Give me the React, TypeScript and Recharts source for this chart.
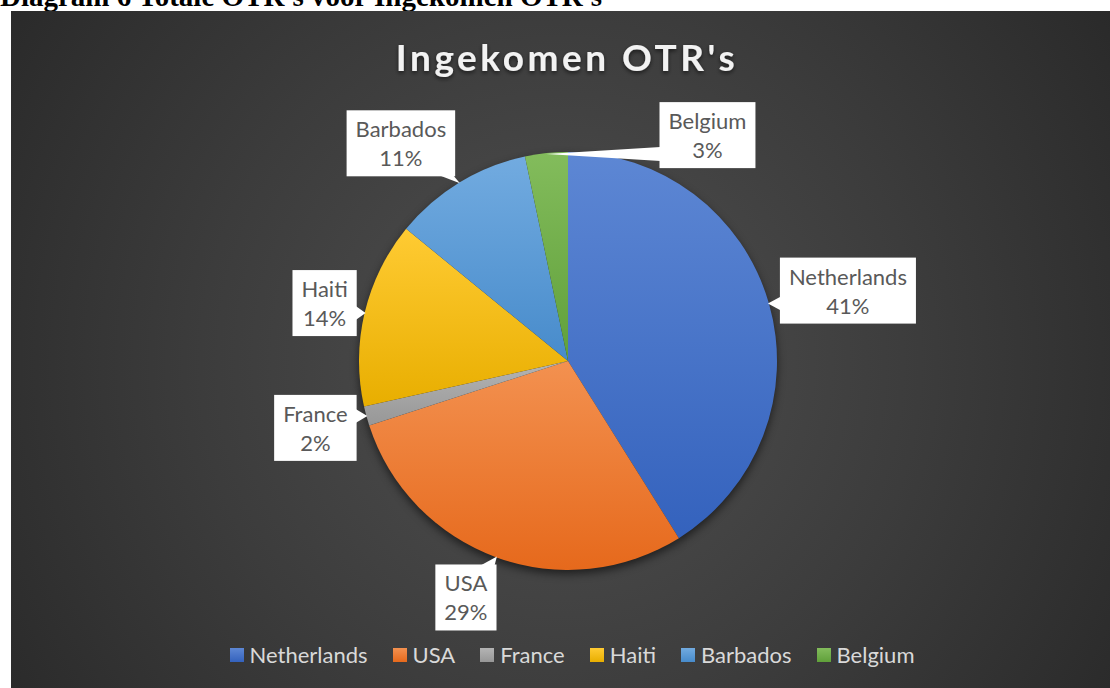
import { Cell, Legend, Pie, PieChart } from 'recharts'

const countries = ['Netherlands', 'USA', 'France', 'Haiti', 'Barbados', 'Belgium']
const shares = [41.1, 28.9, 1.5, 14.4, 10.8, 3.3]

const topColors = ['#5d87d4', '#f39150', '#b4b4b4', '#ffcb33', '#72abe0', '#83bc5c']
const bottomColors = ['#3462bd', '#e6691c', '#979797', '#e8ae00', '#478bcb', '#60a03a']

// where each callout box sits relative to the slice edge (dx, dy of box centre)
const labelOffsets = [[80, -13], [-31, 41], [-52, 12], [-41, -10], [-59, -40], [161, -19]]

const data = countries.map((name, i) => ({ name, value: shares[i] }))

const FONT = 'Lato, "Open Sans", sans-serif'
const LABEL_SIZE = 22
const RAD = Math.PI / 180

let measureCtx: CanvasRenderingContext2D | null = null
function textWidth(text: string, font: string): number {
  if (!measureCtx) measureCtx = document.createElement('canvas').getContext('2d')
  if (!measureCtx) return text.length * 10
  measureCtx.font = font
  return measureCtx.measureText(text).width
}

function clamp(v: number, lo: number, hi: number) {
  return Math.max(lo, Math.min(hi, v))
}

function renderCallout(props: any) {
  const { cx, cy, midAngle, outerRadius, percent, name, index } = props
  const r = outerRadius - 1
  const tipX = cx + r * Math.cos(-midAngle * RAD)
  const tipY = cy + r * Math.sin(-midAngle * RAD)
  const [dx, dy] = labelOffsets[index] ?? [0, 0]
  const pct = `${Math.round(percent * 100)}%`
  const font = `${LABEL_SIZE}px ${FONT}`
  const w = Math.max(textWidth(name, font), textWidth(pct, font)) + 18
  const h = 66
  const bx = tipX + dx
  const by = tipY + dy
  const left = bx - w / 2
  const top = by - h / 2

  const nx = (tipX - bx) / (w / 2)
  const ny = (tipY - by) / (h / 2)
  let wedge: string
  const hw = 7
  if (Math.abs(nx) >= Math.abs(ny)) {
    const ex = nx < 0 ? left + 1 : left + w - 1
    const my = clamp(tipY, top + 9, top + h - 9)
    wedge = `M${ex},${my - hw} L${tipX},${tipY} L${ex},${my + hw} Z`
  } else {
    const ey = ny < 0 ? top + 1 : top + h - 1
    const mx = clamp(tipX, left + 9, left + w - 9)
    wedge = `M${mx - hw},${ey} L${tipX},${tipY} L${mx + hw},${ey} Z`
  }

  return (
    <g>
      <rect x={left} y={top} width={w} height={h} fill="#ffffff" />
      <path d={wedge} fill="#ffffff" />
      <text x={bx} y={top + 27} textAnchor="middle" fill="#595959" fontFamily={FONT} fontSize={LABEL_SIZE}>
        {name}
      </text>
      <text x={bx} y={top + 56} textAnchor="middle" fill="#595959" fontFamily={FONT} fontSize={LABEL_SIZE}>
        {pct}
      </text>
    </g>
  )
}

function LegendContent() {
  return (
    <div style={{ display: 'flex', justifyContent: 'center', alignItems: 'center', height: 24 }}>
      {countries.map((name, i) => (
        <div key={name} style={{ display: 'flex', alignItems: 'center', marginRight: i < countries.length - 1 ? 25 : 0 }}>
          <span
            style={{
              display: 'inline-block',
              width: 14,
              height: 14,
              marginRight: 6,
              background: `linear-gradient(${topColors[i]}, ${bottomColors[i]})`
            }}
          />
          <span style={{ color: '#d9d9d9', fontFamily: FONT, fontSize: LABEL_SIZE, lineHeight: '24px' }}>{name}</span>
        </div>
      ))}
    </div>
  )
}

export default function App() {
  return (
    <div style={{ position: 'absolute', left: 0, top: 0, width: 1110, height: 688, overflow: 'hidden', background: '#ffffff' }}>
      <svg width={1110} height={20} style={{ position: 'absolute', left: 0, top: 0 }}>
        <text x={0} y={6} fontFamily='"Liberation Serif", "Times New Roman", serif' fontWeight="bold" fontSize={29} fill="#000000">
          Diagram 6 Totale OTR's voor Ingekomen OTR's
        </text>
      </svg>
      <div
        style={{
          position: 'absolute',
          left: 11,
          top: 11,
          width: 1099,
          height: 677,
          background: 'radial-gradient(circle 720px at 50% 52%, #505050 0%, #3c3c3c 50%, #262626 100%)'
        }}
      >
        <PieChart width={1099} height={677} margin={{ top: 0, right: 0, bottom: 0, left: 0 }}>
          <defs>
            {countries.map((c, i) => (
              <linearGradient key={c} id={`slice-${i}`} x1="0" y1="0" x2="0" y2="1">
                <stop offset="0%" stopColor={topColors[i]} />
                <stop offset="100%" stopColor={bottomColors[i]} />
              </linearGradient>
            ))}
          </defs>
          {/* soft shadow under the pie */}
          <Pie
            data={data}
            dataKey="value"
            nameKey="name"
            cx={557}
            cy={354}
            outerRadius={209}
            startAngle={90}
            endAngle={-270}
            stroke="none"
            legendType="none"
            isAnimationActive={false}
          >
            {data.map((d) => (
              <Cell key={d.name} fill="rgba(0,0,0,0.55)" style={{ filter: 'blur(4px)' }} />
            ))}
          </Pie>
          <Pie
            data={data}
            dataKey="value"
            nameKey="name"
            cx={557}
            cy={350}
            outerRadius={209}
            startAngle={90}
            endAngle={-270}
            stroke="none"
            label={renderCallout}
            labelLine={false}
            isAnimationActive={false}
          >
            {data.map((d, i) => (
              <Cell key={d.name} fill={`url(#slice-${i})`} />
            ))}
          </Pie>
          <Legend content={LegendContent} wrapperStyle={{ position: 'absolute', left: 0, top: 632, width: 1122 }} />
        </PieChart>
        <svg width={1099} height={100} style={{ position: 'absolute', left: 0, top: 0, pointerEvents: 'none' }}>
          <defs>
            <filter id="title-shadow" x="-10%" y="-30%" width="120%" height="160%">
              <feDropShadow dx="0" dy="2" stdDeviation="2" floodColor="#000000" floodOpacity="0.6" />
            </filter>
          </defs>
          <text
            x={556}
            y={60}
            textAnchor="middle"
            fontFamily={FONT}
            fontWeight="bold"
            fontSize={37}
            letterSpacing={3.5}
            fill="#f2f2f2"
            filter="url(#title-shadow)"
          >
            Ingekomen OTR's
          </text>
        </svg>
      </div>
    </div>
  )
}
